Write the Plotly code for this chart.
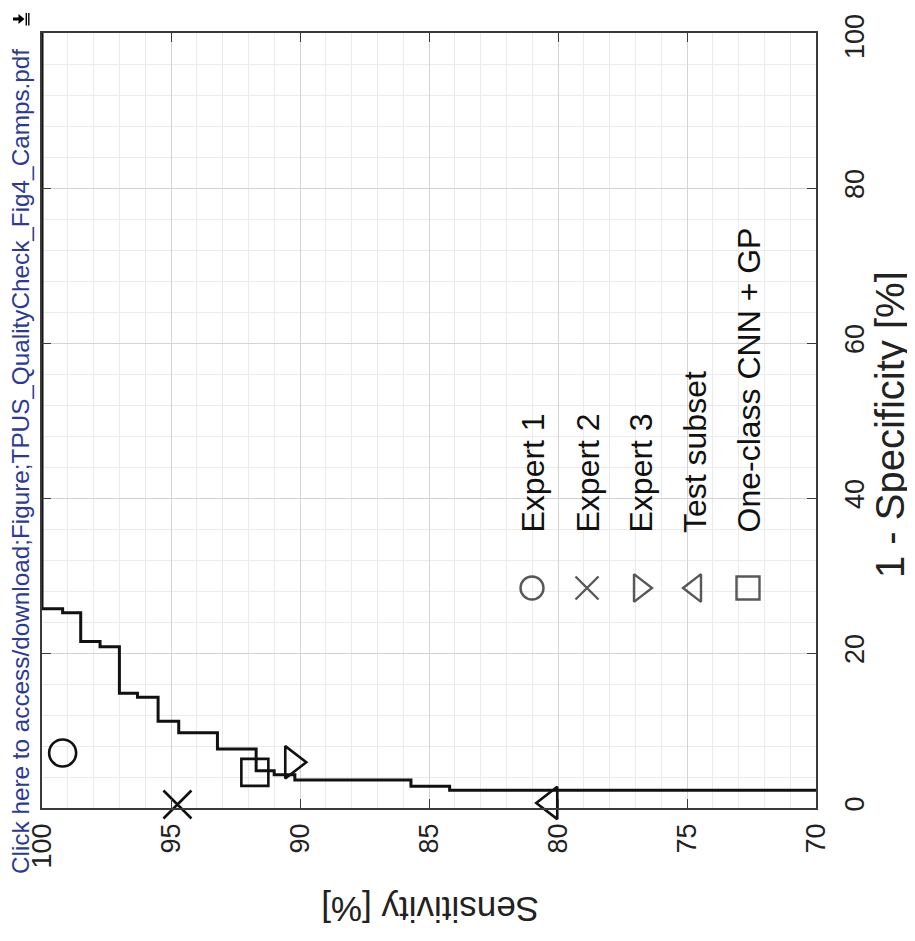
import plotly.graph_objects as go

# ---- data ----
roc_sens = [100, 99.2, 98.5, 97.75, 97.0, 96.3, 95.5, 94.7, 93.2, 91.7, 91.0, 90.2, 85.7, 84.2, 70.0]
roc_fpr = [100, 25.7, 25.2, 21.5, 20.8, 14.8, 14.3, 11.2, 9.7, 7.6, 4.8, 4.3, 3.6, 2.8, 2.3]

point_names = ["Expert 1", "Expert 2", "Expert 3", "Test subset", "One-class CNN + GP"]
point_sens = [99.2, 94.75, 90.3, 80.3, 91.75]
point_fpr = [7.1, 0.45, 5.9, 0.65, 4.6]
point_symbols = ["circle-open", "x-thin-open", "triangle-right-open", "triangle-left-open", "square-open"]
point_sizes = [27, 28, 28, 28, 27]

sens_ticks = [100, 95, 90, 85, 80, 75, 70]
fpr_ticks = [0, 20, 40, 60, 80, 100]
fpr_ticktext = ["0", "20", "40", "60", "80", ""]  # top label "100" placed separately below
fpr_top_label = "100"

FONT = "Liberation Sans, Arial, Helvetica, sans-serif"
INK = "#111111"

W, H = 915, 941
OFF = 8  # page offset of the rendered figure inside the browser window
PL, PT, PW, PH = 42, 33, 774, 775  # plot area in window pixels
ML, MT = PL - OFF, PT - OFF
MR, MB = W - ML - PW, H - MT - PH


def px(x):
    return (x - PL) / PW


def py(y):
    return (PT + PH - y) / PH


fig = go.Figure()

# ROC staircase
fig.add_trace(go.Scatter(
    x=roc_sens, y=roc_fpr, mode="lines", line=dict(color=INK, width=3, shape="vh"),
    showlegend=False, hoverinfo="skip"))

# operating points
for n, s, f, sym, sz in zip(point_names, point_sens, point_fpr, point_symbols, point_sizes):
    fig.add_trace(go.Scatter(
        x=[s], y=[f], mode="markers", name=n, showlegend=False, cliponaxis=False,
        marker=dict(symbol=sym, size=sz, color=INK, line=dict(color=INK, width=2.6))))

# ---- custom rotated legend (overlay axes in 0..1 units) ----
leg_x = [px(532), px(587), px(640), px(695), px(748)]
leg_marker_y = py(588)
leg_text_y = py(535)
fig.add_trace(go.Scatter(
    x=leg_x, y=[leg_marker_y] * 5, xaxis="x2", yaxis="y2", mode="markers",
    showlegend=False, hoverinfo="skip", cliponaxis=False,
    marker=dict(symbol=point_symbols, size=[23, 23, 24, 24, 23], color=INK,
                line=dict(color=INK, width=2.4))))

fig.add_shape(type="rect", xref="paper", yref="paper", x0=px(505), x1=px(773), y0=py(637), y1=py(210),
              fillcolor="white", line=dict(width=0), layer="between")

for lx, n in zip(leg_x, point_names):
    fig.add_annotation(x=lx, y=leg_text_y, xref="paper", yref="paper", text=n, showarrow=False,
                       textangle=-90, xanchor="center", yanchor="bottom",
                       font=dict(family=FONT, size=32, color=INK))

# axis titles (rotated like the reference page)
fig.add_annotation(x=px(430), y=py(910), xref="paper", yref="paper", text="Sensitivity [%]",
                   showarrow=False, textangle=180, xanchor="center", yanchor="middle",
                   font=dict(family=FONT, size=35, color="#222"))
fig.add_annotation(x=px(890), y=py(425), xref="paper", yref="paper", text="1 - Specificity [%]",
                   showarrow=False, textangle=-90, xanchor="center", yanchor="middle",
                   font=dict(family=FONT, size=40, color="#222"))

# top tick label of the specificity axis, nudged to stay inside the page
fig.add_annotation(x=px(855), y=py(37), xref="paper", yref="paper", text=fpr_top_label,
                   showarrow=False, textangle=-90, xanchor="center", yanchor="middle",
                   font=dict(family=FONT, size=27, color="#222"))

# download link text and icon
fig.add_annotation(x=px(21), y=py(462), xref="paper", yref="paper",
                   text="Click here to access/download;Figure;TPUS_QualityCheck_Fig4_Camps.pdf",
                   showarrow=False, textangle=-90, xanchor="center", yanchor="middle",
                   font=dict(family=FONT, size=24.3, color="#2b3a96"))

# small "jump" icon above the link text
fig.add_shape(type="path", xref="paper", yref="paper",
              path=(f"M {px(13)},{py(17.5)} L {px(18.5)},{py(17.5)} L {px(18.5)},{py(14)} "
                    f"L {px(24.5)},{py(19)} L {px(18.5)},{py(24)} L {px(18.5)},{py(20.5)} "
                    f"L {px(13)},{py(20.5)} Z"),
              fillcolor="black", line=dict(width=0), layer="above")
for bx in (26.3, 28.8):
    fig.add_shape(type="line", xref="paper", yref="paper", x0=px(bx), x1=px(bx), y0=py(13), y1=py(25.5),
                  line=dict(color="black", width=1.4), layer="above")

axis_common = dict(
    showline=True, linecolor="#3a3a3a", linewidth=1.5, mirror="ticks",
    ticks="inside", ticklen=9, tickwidth=1.3, tickcolor="#3a3a3a",
    showgrid=True, gridcolor="#d4d4d4", gridwidth=1, zeroline=False,
    tickfont=dict(family=FONT, size=27, color="#222"), automargin=False,
    ticklabeloverflow="allow",
)

fig.update_layout(
    width=W, height=H,
    margin=dict(l=ML, r=MR, t=MT, b=MB, autoexpand=False),
    paper_bgcolor="white", plot_bgcolor="white",
    xaxis=dict(range=[100, 70], tickvals=sens_ticks, ticktext=[str(v) for v in sens_ticks],
               tickangle=-90, ticklabelstandoff=3,
               minor=dict(dtick=1, showgrid=True, gridcolor="#ebebeb", ticks=""),
               **axis_common),
    yaxis=dict(range=[0, 100], side="right", tickvals=fpr_ticks, ticktext=fpr_ticktext,
               tickangle=-90, ticklabelstandoff=14,
               minor=dict(dtick=4, showgrid=True, gridcolor="#ebebeb", ticks=""),
               **axis_common),
    xaxis2=dict(range=[0, 1], overlaying="x", visible=False),
    yaxis2=dict(range=[0, 1], overlaying="y", visible=False),
    showlegend=False,
)

fig.write_html("out.html")
